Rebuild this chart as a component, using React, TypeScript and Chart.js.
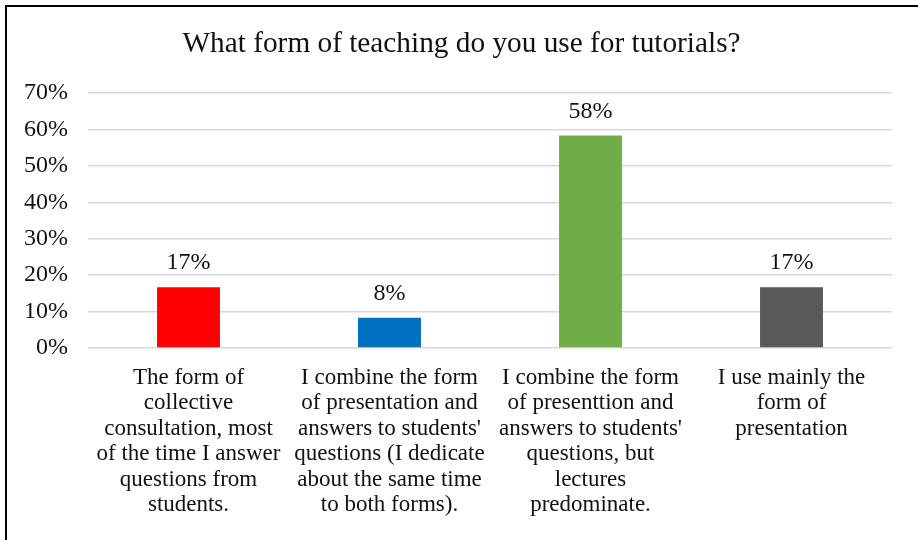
import React, { useEffect, useRef } from 'react';
import { Chart, registerables } from 'chart.js';

Chart.register(...registerables);

const titleText = 'What form of teaching do you use for tutorials?';

const categories: string[][] = [
  ['The form of', 'collective', 'consultation, most', 'of the time I answer', 'questions from', 'students.'],
  ['I combine the form', 'of presentation and', "answers to students'", 'questions (I dedicate', 'about the same time', 'to both forms).'],
  ['I combine the form', 'of presenttion and', "answers to students'", 'questions, but', 'lectures', 'predominate.'],
  ['I use mainly the', 'form of', 'presentation'],
];

const values = [16.7, 8.3, 58.3, 16.7];
const barColors = ['#FF0000', '#0070C0', '#70AD47', '#595959'];

const yMin = 0;
const yMax = 70;
const yStep = 10;

const FONT = "'Liberation Serif', 'Times New Roman', Times, serif";
const TEXT_COLOR = '#111111';

const framePlugin = {
  id: 'frame',
  afterDraw(chart: any) {
    const ctx = chart.ctx;
    ctx.save();
    ctx.fillStyle = '#000';
    ctx.fillRect(5, 5, chart.width - 5, 2);
    ctx.fillRect(5, 5, 2, chart.height - 5);
    // title
    ctx.font = `29.3px ${FONT}`;
    ctx.fillStyle = TEXT_COLOR;
    ctx.textAlign = 'center';
    ctx.textBaseline = 'alphabetic';
    ctx.fillText(titleText, 461.5, 51.5);
    ctx.restore();
  },
};

const dataLabelPlugin = {
  id: 'dataLabels',
  afterDatasetsDraw(chart: any) {
    const ctx = chart.ctx;
    const meta = chart.getDatasetMeta(0);
    ctx.save();
    ctx.font = `24px ${FONT}`;
    ctx.fillStyle = TEXT_COLOR;
    ctx.textAlign = 'center';
    ctx.textBaseline = 'alphabetic';
    meta.data.forEach((bar: any, i: number) => {
      const v = chart.data.datasets[0].data[i] as number;
      ctx.fillText(`${Math.round(v)}%`, bar.x, bar.y - 18);
    });
    ctx.restore();
  },
};

export default function App() {
  const canvasRef = useRef<HTMLCanvasElement | null>(null);

  useEffect(() => {
    if (!canvasRef.current) return;
    const chart = new Chart(canvasRef.current, {
      type: 'bar',
      data: {
        labels: categories,
        datasets: [
          {
            data: values,
            backgroundColor: barColors,
            borderWidth: 0,
            categoryPercentage: 1,
            barPercentage: 0.313,
          },
        ],
      },
      options: {
        animation: false,
        responsive: false,
        devicePixelRatio: 1,
        layout: { padding: { left: 22, right: 26, top: 93, bottom: 0 } },
        plugins: {
          legend: { display: false },
          tooltip: { enabled: false },
          title: { display: false },
        },
        scales: {
          x: {
            grid: { display: false, drawTicks: false },
            border: { display: false },
            ticks: {
              color: TEXT_COLOR,
              font: { family: FONT, size: 23, lineHeight: 1.11 },
              padding: 17,
              autoSkip: false,
              maxRotation: 0,
              minRotation: 0,
            },
            afterFit: (scale: any) => {
              scale.height = 192;
            },
          },
          y: {
            min: yMin,
            max: yMax,
            grid: { color: '#d9d9d9', lineWidth: 1.5, drawTicks: false },
            border: { display: false },
            ticks: {
              stepSize: yStep,
              color: TEXT_COLOR,
              font: { family: FONT, size: 24 },
              padding: 20,
              callback: (v: any) => `${v}%`,
            },
            afterFit: (scale: any) => {
              scale.width = 66;
            },
          },
        },
      },
      plugins: [dataLabelPlugin, framePlugin],
    });
    return () => chart.destroy();
  }, []);

  return (
    <div style={{ position: 'fixed', left: 0, top: 0, width: 918, height: 540, background: '#fff', overflow: 'hidden' }}>
      <canvas ref={canvasRef} width={918} height={540} style={{ display: 'block' }} />
    </div>
  );
}
